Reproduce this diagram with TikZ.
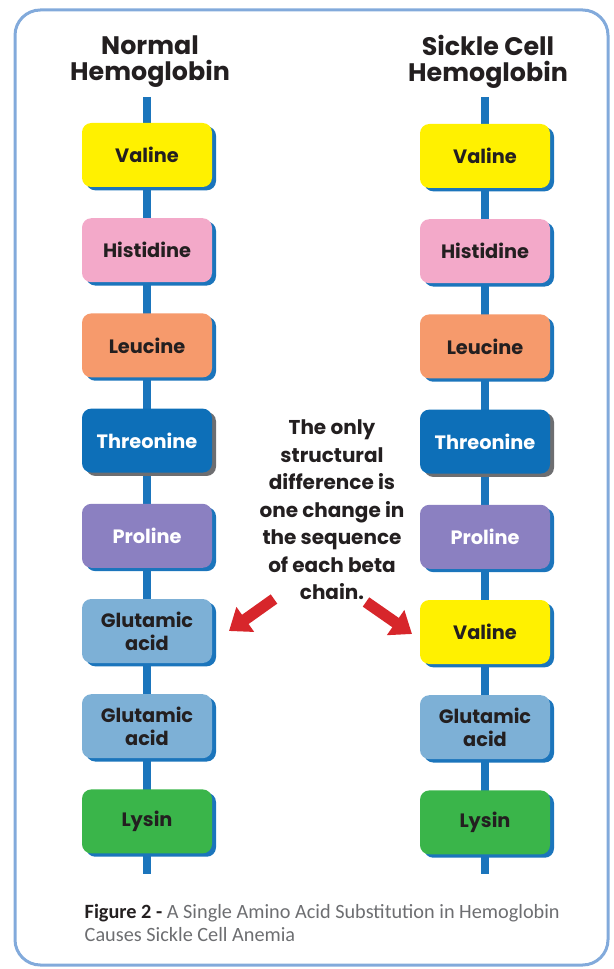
\documentclass[tikz,border=0pt]{standalone}
\usepackage{fontspec}
\setmainfont{Poppins}
\newfontfamily\capfont{Carlito}
\usetikzlibrary{arrows.meta,positioning,shadows}

\definecolor{chainblue}{HTML}{1B75BC}
\definecolor{framblue}{HTML}{82AADB}
\definecolor{inkdark}{HTML}{231F20}
\definecolor{capgray}{HTML}{6D6E71}
\definecolor{shadegray}{HTML}{6D6E71}
\definecolor{valyellow}{HTML}{FFF100}
\definecolor{hispink}{HTML}{F3A9C9}
\definecolor{leuorange}{HTML}{F69A6C}
\definecolor{thrblue}{HTML}{0D6FB8}
\definecolor{propurple}{HTML}{8B80C1}
\definecolor{glublue}{HTML}{7DB0D6}
\definecolor{lysgreen}{HTML}{3AB54A}
\definecolor{hintred}{HTML}{D7262B}

\begin{document}
\begin{tikzpicture}[x=0.75pt,y=-0.75pt,node distance=23pt,
    acid/.style={rounded corners=7pt,minimum width=97.5pt,minimum height=48pt,
      align=center,inner sep=2pt,text=inkdark,
      font=\fontsize{14.5}{17}\selectfont\bfseries,
      drop shadow={shadow xshift=3pt,shadow yshift=-2.5pt,fill=#1,opacity=1}},
    acid/.default=chainblue,
    chain/.style={chainblue,line width=6.5pt},
    title/.style={align=center,text=inkdark,font=\fontsize{19}{19.5}\selectfont\bfseries},
    note/.style={align=center,text=inkdark,font=\fontsize{15}{20.6}\selectfont\bfseries},
    pointer/.style={hintred,line width=8.5pt,-{Triangle[length=15pt,width=22pt]}}]

  \useasboundingbox (0,0) rectangle (613,969);
  \draw[framblue,line width=2.25pt,rounded corners=19pt] (15,10) rectangle (608,965);

  % backbones
  \coordinate (ltop) at (147,97);
  \coordinate (lbot) at (147,874);
  \coordinate (rtop) at (485,97);
  \coordinate (rbot) at (485,874);
  \draw[chain] (ltop) -- (lbot);
  \draw[chain] (rtop) -- (rbot);

  \node[title] (normal) at (150,62) {Normal\\Hemoglobin};
  \node[title] (sickle) at (488,62) {Sickle Cell\\Hemoglobin};

  % normal chain
  \node[acid,fill=valyellow] (lval) at (147,155) {Valine};
  \node[acid,fill=hispink] (lhis) [below=of lval] {Histidine};
  \node[acid,fill=leuorange] (lleu) [below=of lhis] {Leucine};
  \node[acid=shadegray,fill=thrblue,text=white] (lthr) [below=of lleu] {Threonine};
  \node[acid,fill=propurple,text=white] (lpro) [below=of lthr] {Proline};
  \node[acid,fill=glublue] (lglu) [below=of lpro] {Glutamic\\acid};
  \node[acid,fill=glublue] (lglb) [below=of lglu] {Glutamic\\acid};
  \node[acid,fill=lysgreen] (llys) [below=of lglb] {Lysin};

  % sickle chain
  \node[acid,fill=valyellow] (rval) at (485,156) {Valine};
  \node[acid,fill=hispink] (rhis) [below=of rval] {Histidine};
  \node[acid,fill=leuorange] (rleu) [below=of rhis] {Leucine};
  \node[acid=shadegray,fill=thrblue,text=white] (rthr) [below=of rleu] {Threonine};
  \node[acid,fill=propurple,text=white] (rpro) [below=of rthr] {Proline};
  \node[acid,fill=valyellow] (rsub) [below=of rpro] {Valine};
  \node[acid,fill=glublue] (rglu) [below=of rsub] {Glutamic\\acid};
  \node[acid,fill=lysgreen] (rlys) [below=of rglu] {Lysin};

  \node[note] (diff) at (332,510) {The only\\structural\\difference is\\one change in\\the sequence\\of each beta\\chain.};

  \coordinate (ltail) at (274,599);
  \coordinate (lhead) at (229,631);
  \coordinate (rtail) at (366,602);
  \coordinate (rhead) at (412,634);
  \draw[pointer] (ltail) -- (lhead);
  \draw[pointer] (rtail) -- (rhead);

  \node[align=left,anchor=west,font=\capfont\fontsize{15.2}{17.5}\selectfont,text=capgray] (caption) at (80,923)
    {\textcolor{inkdark}{\bfseries Figure 2 -} A Single Amino Acid Substitution in Hemoglobin\\Causes Sickle Cell Anemia};
\end{tikzpicture}
\end{document}
